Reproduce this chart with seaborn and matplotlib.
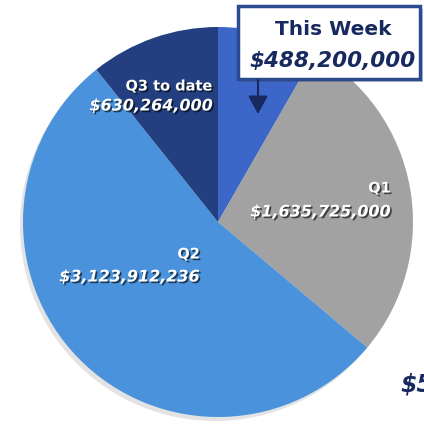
import matplotlib
matplotlib.use("Agg")
import matplotlib.pyplot as plt
import matplotlib.patheffects as pe
from matplotlib.patches import FancyBboxPatch
import seaborn as sns

sns.set_theme(style="white")
plt.rcParams['font.family'] = ['DejaVu Sans']

# Data
categories = ["This Week", "Q1", "Q2", "Q3 to date"]
values = [488200000, 1635725000, 3123912236, 630264000]
value_labels = ["$488,200,000", "$1,635,725,000", "$3,123,912,236", "$630,264,000"]
colors = ["#3d66c9", "#a2a2a2", "#4a93dc", "#243f7f"]

W, H = 424, 425
fig = plt.figure(figsize=(W / 100, H / 100), dpi=100)
ax = fig.add_axes([0, 0, 1, 1])
ax.set_xlim(0, W)
ax.set_ylim(0, H)
ax.set_aspect("equal")
ax.axis("off")

cx, cy, r = 218, H - 222, 195
# soft shadow
ax.pie(values, colors=["#c8c8c8"] * 4, startangle=90, counterclock=False,
       radius=r, center=(cx - 3, cy - 4), wedgeprops=dict(linewidth=0, alpha=0.5))
ax.pie(values, colors=colors, startangle=90, counterclock=False,
       radius=r, center=(cx, cy), wedgeprops=dict(linewidth=0))
ax.set_xlim(0, W)
ax.set_ylim(0, H)

navy = "#17295e"
shadow = [pe.withSimplePatchShadow(offset=(1.2, -1.2), shadow_rgbFace="black", alpha=0.6)]

def lab(x, y, t, size=10):
    ax.text(x, H - y, t, color="white", fontsize=size, fontweight="bold",
            style="italic" if t.startswith("$") else "normal",
            ha="right", va="center", path_effects=shadow)

lab(213, 86, "Q3 to date", 10.5)
lab(213, 106, value_labels[3], 11.5)
lab(391, 188, "Q1", 10.5)
lab(391, 212, value_labels[1], 11.5)
lab(200, 254, "Q2", 10.5)
lab(200, 277, value_labels[2], 11.5)

# This Week callout box
box = FancyBboxPatch((238, H - 79), 182, 73, boxstyle="square,pad=0",
                     facecolor="white", edgecolor="#2b4a8f", linewidth=2.5, zorder=5,
                     path_effects=[pe.withSimplePatchShadow(offset=(2, -2), alpha=0.3)])
ax.add_patch(box)
ax.text(333, H - 29, categories[0], color=navy, fontsize=14.5, fontweight="bold",
        ha="center", va="center", zorder=6)
ax.text(333, H - 61, value_labels[0], color=navy, fontsize=15.5, fontweight="bold",
        style="italic", ha="center", va="center", zorder=6)
ax.annotate("", xy=(258, H - 114), xytext=(258, H - 80),
            arrowprops=dict(arrowstyle="-|>,head_length=0.55,head_width=0.3", color=navy,
                            lw=1.5, mutation_scale=20, shrinkA=0, shrinkB=0), zorder=6)

ax.text(400, H - 385, "$5,878,101,236", color=navy, fontsize=17, fontweight="bold",
        style="italic", ha="left", va="center")

fig.savefig("out.png", dpi=100)
